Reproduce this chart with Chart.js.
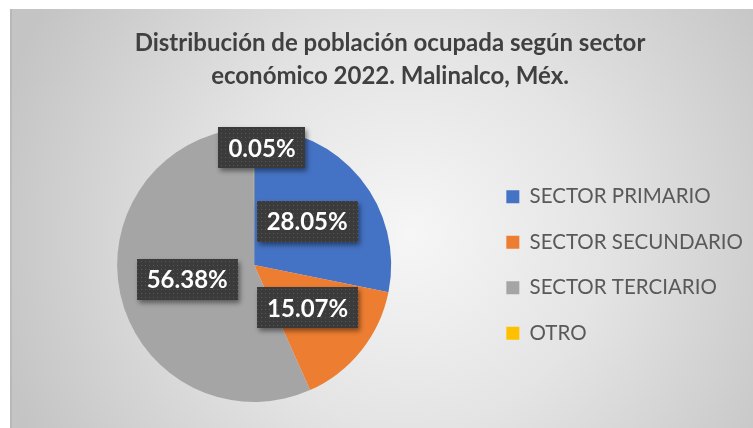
<!DOCTYPE html>
<html>
<head>
<meta charset="utf-8">
<script src="https://cdn.jsdelivr.net/npm/chart.js@4.4.1/dist/chart.umd.min.js"></script>
<style>
  html, body { margin: 0; padding: 0; background: #ffffff; }
  #wrap { position: relative; width: 753px; height: 428px; }
</style>
</head>
<body>
<div id="wrap"><canvas id="c"></canvas></div>
<script>
const titleLines = ["Distribución de población ocupada según sector", "económico 2022. Malinalco, Méx."];
const categories = ["SECTOR PRIMARIO", "SECTOR SECUNDARIO", "SECTOR TERCIARIO", "OTRO"];
const shares = [28.05, 15.07, 56.38, 0.05];
const valueLabels = ["28.05%", "15.07%", "56.38%", "0.05%"];
const sliceColors = ["#4472C4", "#ED7D31", "#A5A5A5", "#FFC000"];

// background: white page + radial grey gradient chart box
const bgPlugin = {
  id: 'bg',
  beforeDraw(chart) {
    const ctx = chart.ctx;
    const W = chart.width, H = chart.height;
    ctx.save();
    ctx.fillStyle = '#ffffff';
    ctx.fillRect(0, 0, W, H);
    const g = ctx.createRadialGradient(410, 235, 0, 410, 235, 430);
    g.addColorStop(0, '#f6f6f6');
    g.addColorStop(0.45, '#e4e4e4');
    g.addColorStop(1, '#c4c4c4');
    ctx.fillStyle = g;
    ctx.fillRect(10, 9, W - 10, H - 9);
    ctx.fillStyle = 'rgba(0,0,0,0.06)';
    ctx.fillRect(10, 9, 2, H - 9);
    ctx.restore();
  }
};

// dotted dark pattern for the data-label boxes
function makePattern(ctx) {
  const p = document.createElement('canvas');
  p.width = 4; p.height = 4;
  const pc = p.getContext('2d');
  pc.fillStyle = '#3b3b3b';
  pc.fillRect(0, 0, 4, 4);
  pc.fillStyle = '#575757';
  pc.fillRect(1, 1, 1, 1);
  return ctx.createPattern(p, 'repeat');
}

const labelPlugin = {
  id: 'boxLabels',
  afterDatasetsDraw(chart) {
    const ctx = chart.ctx;
    const meta = chart.getDatasetMeta(0);
    const pattern = makePattern(ctx);
    const total = shares.reduce((a, b) => a + b, 0);
    ctx.save();
    ctx.font = 'bold 24px Lato';
    ctx.textAlign = 'center';
    ctx.textBaseline = 'middle';
    meta.data.forEach((arc, i) => {
      const mid = (arc.startAngle + arc.endAngle) / 2;
      const frac = shares[i] / total;
      const rr = frac < 0.03 ? arc.outerRadius * 0.855 : arc.outerRadius * 0.5;
      let x = arc.x + Math.cos(mid) * rr;
      const y = arc.y + Math.sin(mid) * rr;
      if (frac < 0.03) x += 8;
      const text = valueLabels[i];
      const tw = ctx.measureText(text).width;
      const bw = tw + 20, bh = 41;
      ctx.save();
      ctx.shadowColor = 'rgba(0,0,0,0.45)';
      ctx.shadowBlur = 5;
      ctx.shadowOffsetX = 2;
      ctx.shadowOffsetY = 3;
      ctx.fillStyle = pattern;
      ctx.fillRect(Math.round(x - bw / 2), Math.round(y - bh / 2), Math.round(bw), bh);
      ctx.restore();
      ctx.fillStyle = '#ffffff';
      ctx.fillText(text, x, y + 1);
    });
    ctx.restore();
  }
};

new Chart(document.getElementById('c'), {
  type: 'pie',
  data: {
    labels: categories,
    datasets: [{
      data: shares,
      backgroundColor: sliceColors,
      borderWidth: 0
    }]
  },
  options: {
    responsive: true,
    maintainAspectRatio: false,
    animation: false,
    layout: { padding: { left: 27, right: 0, top: 0, bottom: 26 } },
    plugins: {
      title: {
        display: true,
        text: titleLines,
        color: '#404040',
        font: { family: 'Lato', size: 24, weight: 'bold', lineHeight: 1.375 },
        padding: { top: 26.5, bottom: 35.5 }
      },
      legend: {
        position: 'right',
        align: 'center',
        fullSize: false,
        labels: {
          boxWidth: 13,
          boxHeight: 13,
          padding: 25,
          color: '#595959',
          font: { family: 'Lato', size: 20.5 }
        }
      },
      tooltip: { enabled: false }
    }
  },
  plugins: [bgPlugin, labelPlugin]
});
</script>
</body>
</html>
